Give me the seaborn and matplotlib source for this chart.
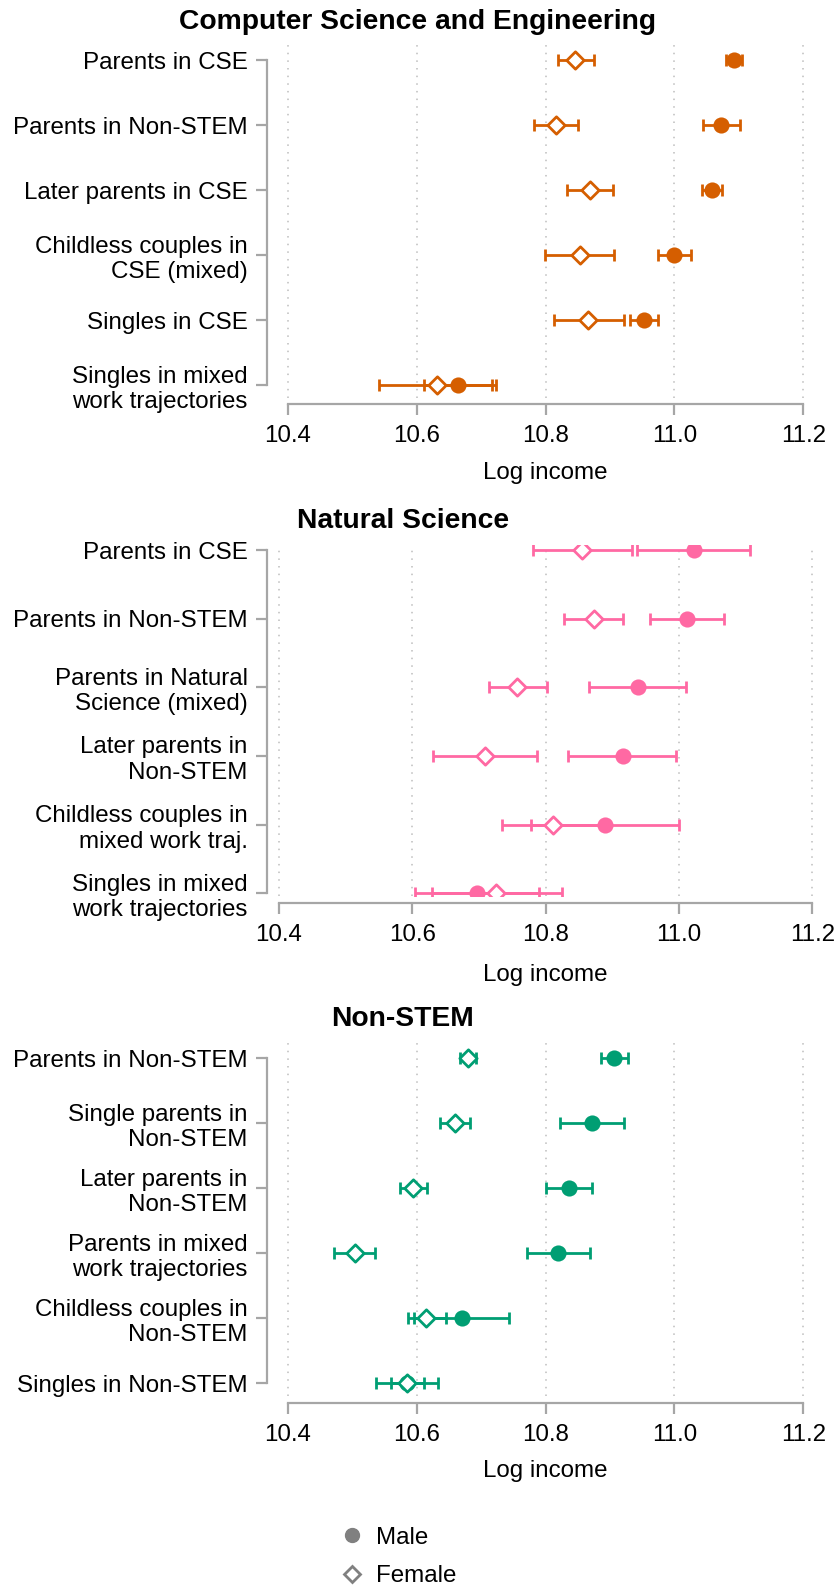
import pandas as pd
import matplotlib
matplotlib.use("Agg")
import matplotlib.pyplot as plt
from matplotlib.lines import Line2D
import seaborn as sns

W, H = 837, 1585

# ---- data (log income, point estimate and 95% CI) ----
cse_labels = ["Parents in CSE", "Parents in Non-STEM", "Later parents in CSE",
              "Childless couples in\nCSE (mixed)", "Singles in CSE",
              "Singles in mixed\nwork trajectories"]
cse_male = [11.092, 11.073, 11.059, 11.000, 10.953, 10.664]
cse_male_lo = [11.080, 11.045, 11.043, 10.975, 10.931, 10.612]
cse_male_hi = [11.105, 11.101, 11.074, 11.026, 10.974, 10.717]
cse_fem = [10.846, 10.816, 10.869, 10.853, 10.866, 10.631]
cse_fem_lo = [10.819, 10.782, 10.833, 10.799, 10.813, 10.541]
cse_fem_hi = [10.875, 10.851, 10.905, 10.907, 10.921, 10.723]

ns_labels = ["Parents in CSE", "Parents in Non-STEM",
             "Parents in Natural\nScience (mixed)", "Later parents in\nNon-STEM",
             "Childless couples in\nmixed work traj.",
             "Singles in mixed\nwork trajectories"]
ns_male = [11.022, 11.012, 10.938, 10.916, 10.889, 10.697]
ns_male_lo = [10.937, 10.957, 10.865, 10.834, 10.779, 10.605]
ns_male_hi = [11.107, 11.068, 11.011, 10.996, 11.000, 10.790]
ns_fem = [10.855, 10.872, 10.758, 10.709, 10.811, 10.726]
ns_fem_lo = [10.781, 10.828, 10.715, 10.631, 10.735, 10.630]
ns_fem_hi = [10.930, 10.916, 10.802, 10.787, 10.887, 10.824]

nonstem_labels = ["Parents in Non-STEM", "Single parents in\nNon-STEM",
                  "Later parents in\nNon-STEM", "Parents in mixed\nwork trajectories",
                  "Childless couples in\nNon-STEM", "Singles in Non-STEM"]
nonstem_male = [10.907, 10.872, 10.837, 10.819, 10.671, 10.585]
nonstem_male_lo = [10.886, 10.822, 10.801, 10.771, 10.596, 10.560]
nonstem_male_hi = [10.928, 10.922, 10.872, 10.869, 10.744, 10.611]
nonstem_fem = [10.680, 10.660, 10.595, 10.504, 10.615, 10.585]
nonstem_fem_lo = [10.668, 10.637, 10.574, 10.472, 10.586, 10.537]
nonstem_fem_hi = [10.692, 10.683, 10.616, 10.536, 10.646, 10.633]

x_ticks = [10.4, 10.6, 10.8, 11.0, 11.2]

sns.set_theme(style="white")
plt.rcParams["font.family"] = ["Liberation Sans", "DejaVu Sans"]
plt.rcParams["font.size"] = 17.4
plt.rcParams["text.color"] = "black"
plt.rcParams["axes.labelcolor"] = "black"

FS = 17.4
SPINE = "#a6a6a6"
GRID = "#bdbdbd"

fig = plt.figure(figsize=(W / 100, H / 100), dpi=100)


def px_axes(left, right, top, bottom):
    return fig.add_axes([left / W, 1 - bottom / H, (right - left) / W, (bottom - top) / H])


def _frame(labels, male, mlo, mhi, fem, flo, fhi):
    rows = []
    for i, lab in enumerate(labels):
        rows.append({"pos": i, "label": lab, "sex": "Male", "est": male[i],
                     "lo": mlo[i], "hi": mhi[i]})
        rows.append({"pos": i, "label": lab, "sex": "Female", "est": fem[i],
                     "lo": flo[i], "hi": fhi[i]})
    return pd.DataFrame(rows)


def panel(box, ylim, left_off, bottom_off, xpad, title, title_xy, color, labels,
          male, mlo, mhi, fem, flo, fhi):
    ax = px_axes(*box)
    df = _frame(labels, male, mlo, mhi, fem, flo, fhi)

    for sex in ["Male", "Female"]:
        sub = df[df["sex"] == sex]
        ax.errorbar(sub["est"], sub["pos"],
                    xerr=[sub["est"] - sub["lo"], sub["hi"] - sub["est"]],
                    fmt="none", ecolor=color, elinewidth=2.0, capsize=4.2,
                    capthick=2.0, zorder=2)

    sns.scatterplot(data=df[df["sex"] == "Male"], x="est", y="pos", ax=ax,
                    marker="o", color=color, s=135, linewidth=0, zorder=3,
                    legend=False)
    sns.scatterplot(data=df[df["sex"] == "Female"], x="est", y="pos", ax=ax,
                    marker="D", color="white", edgecolor=color, s=78,
                    linewidth=2.0, zorder=4, legend=False)

    ax.set_xlim(10.399, 11.201)
    ax.set_ylim(*ylim)
    ax.set_xticks(x_ticks)
    ax.set_xticklabels([f"{t:.1f}" for t in x_ticks])
    ax.set_yticks(range(len(labels)))
    ax.set_yticklabels(labels, linespacing=0.93)
    for lab in ax.get_yticklabels():
        lab.set_horizontalalignment("right")
    ax.set_ylabel("")
    ax.set_xlabel("Log income", labelpad=xpad, fontsize=FS, color="black")

    for x in x_ticks:
        ax.axvline(x, color=GRID, linestyle=(0, (1, 4)), linewidth=1.1, zorder=0)

    for s in ["top", "right"]:
        ax.spines[s].set_visible(False)
    ax.spines["left"].set_position(("outward", left_off))
    ax.spines["left"].set_bounds(0, len(labels) - 1)
    ax.spines["bottom"].set_position(("outward", bottom_off))
    ax.spines["bottom"].set_bounds(10.4, 11.2)
    for s in ["left", "bottom"]:
        ax.spines[s].set_color(SPINE)
        ax.spines[s].set_linewidth(1.6)
    ax.tick_params(axis="both", which="major", direction="out", length=8,
                   width=1.6, color=SPINE, labelcolor="black", labelsize=FS,
                   left=True, bottom=True)
    ax.tick_params(axis="y", pad=6)
    ax.tick_params(axis="x", pad=7)
    ax.set_facecolor("none")

    fig.text(title_xy[0] / W, 1 - title_xy[1] / H, title, ha="center",
             va="center", fontsize=20.3, fontweight="bold", color="black")
    return ax


panel((287, 804, 44, 398), (5.2, -0.25), 14.4, 4.3, 11,
      "Computer Science and Engineering", (418, 22), "#d55e00", cse_labels,
      cse_male, cse_male_lo, cse_male_hi, cse_fem, cse_fem_lo, cse_fem_hi)
panel((278, 813, 545, 896), (5.04, -0.073), 7.9, 5.0, 13,
      "Natural Science", (403, 521), "#ff69a3", ns_labels,
      ns_male, ns_male_lo, ns_male_hi, ns_fem, ns_fem_lo, ns_fem_hi)
panel((287, 804, 1042, 1396), (5.2, -0.25), 14.4, 5.0, 10,
      "Non-STEM", (403, 1019), "#009e73", nonstem_labels,
      nonstem_male, nonstem_male_lo, nonstem_male_hi,
      nonstem_fem, nonstem_fem_lo, nonstem_fem_hi)

handles = [
    Line2D([], [], linestyle="none", marker="o", color="#808080", markersize=10),
    Line2D([], [], linestyle="none", marker="D", markerfacecolor="white",
           markeredgecolor="#808080", markeredgewidth=2.0, markersize=8),
]
fig.legend(handles, ["Male", "Female"], loc="center left",
           bbox_to_anchor=(340 / W, 1 - 1557 / H), frameon=False,
           handlelength=1.0, handletextpad=0.5, labelspacing=0.7,
           borderpad=0, borderaxespad=0, fontsize=FS)

fig.savefig("out.png", dpi=100)
